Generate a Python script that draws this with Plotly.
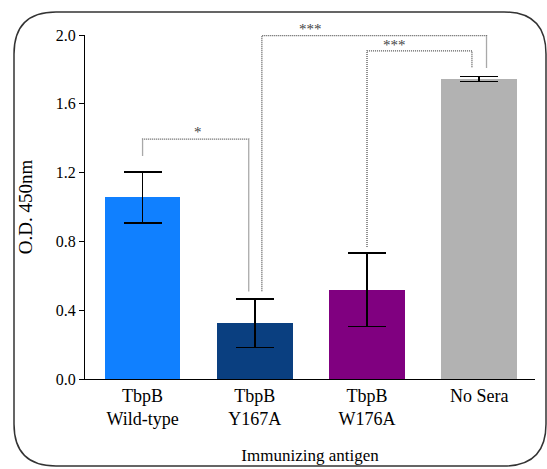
import plotly.graph_objects as go

# ---- data ----
categories = ["TbpB<br>Wild-type", "TbpB<br>Y167A", "TbpB<br>W176A", "No Sera"]
od_means = [1.056, 0.324, 0.519, 1.745]
od_err = [0.148, 0.141, 0.213, 0.014]
bar_colors = ["#1080FF", "#0A3F80", "#800080", "#B2B2B2"]
y_ticks = [0.0, 0.4, 0.8, 1.2, 1.6, 2.0]
y_range = [0.0, 2.0]

# significance brackets: left x, right x, bracket height, left leg end, right leg end, label, label x, label y
brackets = [
    (0.0, 0.946, 1.395, 1.30, 0.51, "*", 0.494, 1.435),
    (1.063, 3.065, 1.996, 0.51, 1.808, "***", 1.50, 2.035),
    (2.0, 2.935, 1.908, 0.768, 1.808, "***", 2.246, 1.94),
]

FONT = "Liberation Serif, Times New Roman, serif"

fig = go.Figure()
fig.add_trace(go.Bar(
    x=list(range(len(categories))), y=od_means,
    marker=dict(color=bar_colors, line=dict(width=0)),
    width=0.674,
    error_y=dict(type="data", array=od_err, visible=True,
                 color="black", thickness=1.5, width=19),
    showlegend=False,
))

for (x0, x1, yb, yl, yr, lab, lx, ly) in brackets:
    fig.add_trace(go.Scatter(
        x=[x0, x0, x1, x1], y=[yl, yb, yb, yr], mode="lines",
        line=dict(color="#555555", width=1.3, dash="1px,1px"),
        showlegend=False, hoverinfo="skip", cliponaxis=False,
    ))
    fig.add_annotation(x=lx, y=(ly - y_range[0]) / (y_range[1] - y_range[0]),
                       xref="x", yref="paper", text=lab,
                       xanchor="center", yanchor="middle",
                       showarrow=False, font=dict(family=FONT, size=15, color="#444444"))

# rounded border (paper coords)
L, R, T, B = 85, 12, 35, 90
W, H = 547, 469
pw, ph = W - L - R, H - T - B

def px(x):
    return (x - L) / pw

def py(y):
    return (H - B - y) / ph

bx0, bx1, by0, by1, rad = 14, 546, 12, 466, 42
path = (
    f"M {px(bx0)},{py(by0 + rad)} "
    f"Q {px(bx0)},{py(by0)} {px(bx0 + rad)},{py(by0)} "
    f"L {px(bx1 - rad)},{py(by0)} "
    f"Q {px(bx1)},{py(by0)} {px(bx1)},{py(by0 + rad)} "
    f"L {px(bx1)},{py(by1 - rad)} "
    f"Q {px(bx1)},{py(by1)} {px(bx1 - rad)},{py(by1)} "
    f"L {px(bx0 + rad)},{py(by1)} "
    f"Q {px(bx0)},{py(by1)} {px(bx0)},{py(by1 - rad)} Z"
)
fig.add_shape(type="path", path=path, xref="paper", yref="paper",
              line=dict(color="#333333", width=1.5), layer="above")

fig.update_layout(
    width=W, height=H,
    margin=dict(l=L, r=R, t=T, b=B, autoexpand=False),
    paper_bgcolor="white", plot_bgcolor="white",
    font=dict(family=FONT, color="black"),
    bargap=0,
)
fig.update_xaxes(
    range=[-0.513, 3.497], tickvals=list(range(len(categories))), ticktext=categories,
    showline=True, linecolor="black", linewidth=1.3, ticks="", showgrid=False,
    tickfont=dict(size=18, family=FONT), zeroline=False, automargin=False,
    title=dict(text="Immunizing antigen", font=dict(size=17, family=FONT), standoff=20),
)
fig.update_yaxes(
    range=y_range, tickvals=y_ticks, tickformat=".1f",
    showline=True, linecolor="black", linewidth=1.3, ticks="outside", ticklen=5,
    tickwidth=1.3, tickcolor="black", showgrid=False, zeroline=False, automargin=False,
    tickfont=dict(size=16, family=FONT),
    title=dict(text="O.D. 450nm", font=dict(size=19, family=FONT), standoff=18),
)

fig.write_html("out.html", config={"displayModeBar": False},
               post_script="document.body.style.margin='0px';")
